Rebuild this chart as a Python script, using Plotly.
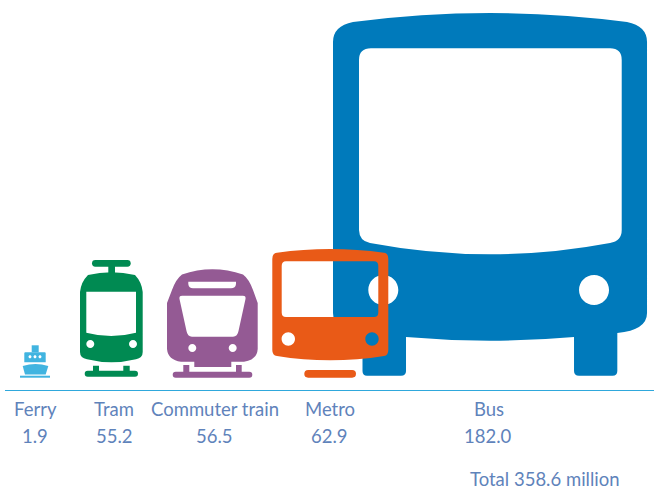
import re
import plotly.graph_objects as go

# Annual passenger journeys by mode, millions
modes = ["Ferry", "Tram", "Commuter train", "Metro", "Bus"]
journeys = [1.9, 55.2, 56.5, 62.9, 182.0]
total_label = "Total 358.6 million"

label_x = [35, 114, 214.5, 329.5, 489]
value_x = [35, 114, 214, 329, 488]
colors = {
    "Ferry": "#41b4e0",
    "Tram": "#008a52",
    "Commuter train": "#945a94",
    "Metro": "#e95a17",
    "Bus": "#007abb",
}
# Pictogram height relative to the common pixels-per-million scale
stretch = {"Ferry": 8.509, "Tram": 1.064, "Commuter train": 0.9574, "Metro": 1.021, "Bus": 1.0}

PX_PER_MILLION = 2.004
FOOT = 377.7  # icon design baseline
AXIS_PX = 390
TEXT = "#5f83bb"
FONT = "Lato, Roboto, sans-serif"
FONT_SIZE = 18.5


def circle(cx, cy, r):
    k = 0.5523 * r
    return (
        f"M{cx - r},{cy} C{cx - r},{cy - k} {cx - k},{cy - r} {cx},{cy - r} "
        f"C{cx + k},{cy - r} {cx + r},{cy - k} {cx + r},{cy} "
        f"C{cx + r},{cy + k} {cx + k},{cy + r} {cx},{cy + r} "
        f"C{cx - k},{cy + r} {cx - r},{cy + k} {cx - r},{cy} Z "
    )


def pill(x0, y0, x1, y1):
    r = (y1 - y0) / 2
    ym = (y0 + y1) / 2
    return (
        f"M{x0 + r},{y0} L{x1 - r},{y0} Q{x1},{y0} {x1},{ym} Q{x1},{y1} {x1 - r},{y1} "
        f"L{x0 + r},{y1} Q{x0},{y1} {x0},{ym} Q{x0},{y0} {x0 + r},{y0} Z "
    )


# Icon outlines in design units: (left edge, top edge, subpaths).
# Inner subpaths become holes through the even-odd fill rule.
icons = {
    "Bus": (
        333,
        13,
        [
            "M333,42 Q333,26 353,22 Q490,4 627,22 Q647,26 647,42 L647,313 Q647,330 617.3,333 "
            "L617.3,371 Q617.3,375.7 612.5,375.7 L579,375.7 Q574,375.7 574,371 L574,337 "
            "Q490,344.4 406,337 L406,371 Q406,375.7 401,375.7 L367,375.7 Q362.5,375.7 362.5,371 "
            "L362.5,333 Q333,330 333,313 Z "
            "M359,60 Q359,48.3 371,48.3 L610,48.3 Q621.7,48.3 621.7,60 L621.7,230 "
            "Q621.7,241 610,243 Q490,265.6 370,243 Q359.3,241 359,230 Z "
            + circle(383.3, 290, 15)
            + circle(594, 290, 15)
        ],
    ),
    "Metro": (
        272.3,
        249,
        [
            "M272.3,259 Q272.3,253 277,252.7 Q330,245.4 384,252.7 Q388.3,253 388.3,259 "
            "L388.3,350 Q388.3,355.5 384,356 Q330,364.6 277,356 Q272.3,355.5 272.3,350 Z "
            "M281.7,266 Q281.7,261.3 286,261.3 L374,261.3 Q378.3,261.3 378.3,266 L378.3,312.5 "
            "Q378.3,317 374,317 L286,317 Q281.7,317 281.7,312.5 Z "
            + circle(288.3, 339, 6.7)
            + circle(372, 339, 6.7),
            pill(304.3, 370, 356, 377.7),
        ],
    ),
    "Commuter train": (
        167,
        269.3,
        [
            "M167,303 L172,290 Q176,279 182,274.5 Q212.3,264 243,274.5 Q249,279 253,290 "
            "L257.7,303 L257.7,349 Q257,360 244,361.7 L231.3,361.7 L231.3,367 "
            "L194.3,367 L194.3,361.7 L181,361.7 Q168,360 167,349 Z "
            "M188.3,281.7 L236,281.7 L236,284 Q235.5,288.3 231,288.3 L193,288.3 Q188.8,288.3 188.3,284 Z "
            "M182,295.7 L243,295.7 Q246,295.7 245.5,299 L238.5,331 Q237.5,336.7 233,336.7 L192,336.7 "
            "Q187.5,336.7 186.5,331 L179.5,299 Q179,295.7 182,295.7 Z "
            + circle(192.3, 348, 4)
            + circle(232.7, 348, 4),
            "M183.3,365 L189.3,365 L189.3,372 L183.3,372 Z M236,365 L241.7,365 L241.7,372 L236,372 Z ",
            pill(172.7, 371.7, 252.3, 377.7),
        ],
    ),
    "Tram": (
        80,
        260,
        [
            pill(92, 260, 130.7, 266.7),
            "M108.3,266 L115,266 L115,274 L108.3,274 Z ",
            "M80,292 Q81,282 88,275 Q111.4,269.5 135,275 Q141.7,282 142.7,292 L142.7,352 "
            "Q142.7,358 136,359.3 Q111.4,365.3 87,359.3 Q80,358 80,352 Z "
            "M86.3,291.7 L136,291.7 L136,332.7 Q111.2,339.3 86.3,332.7 Z "
            + circle(90.3, 344, 4)
            + circle(133, 344, 4),
            "M93,365.7 L99,365.7 L99,371 L93,371 Z M123.3,365.7 L129.7,365.7 L129.7,371 L123.3,371 Z ",
            pill(84.7, 370.7, 138, 376.7),
        ],
    ),
    "Ferry": (
        20,
        345.3,
        [
            "M31.7,345.3 L38.7,345.3 L38.7,352.3 L31.7,352.3 Z ",
            "M25.3,352.3 L44.7,352.3 Q45.7,352.3 45.7,353.3 L45.7,362.3 "
            "L24.3,362.3 L24.3,353.3 Q24.3,352.3 25.3,352.3 Z "
            + circle(30, 356.7, 1.5)
            + circle(35, 356.7, 1.5)
            + circle(40, 356.7, 1.5),
            "M22.7,366 Q35.5,362 48.3,366 L45.7,374.5 L25,374.5 Z ",
            "M20,375.7 L50,375.7 L50,377.7 L20,377.7 Z ",
        ],
    ),
}

NUMBER_PAIR = re.compile(r"(-?\d+(?:\.\d+)?),(-?\d+(?:\.\d+)?)")


def placed(path, left, scale):
    """Convert an outline into data coordinates: x on the layout axis, y in millions."""

    def convert(m):
        x = left + (float(m.group(1)) - left) * scale
        y = (FOOT - float(m.group(2))) * scale / PX_PER_MILLION
        return f"{x:.3f},{y:.4f}"

    return NUMBER_PAIR.sub(convert, path)


shapes = []
# The biggest icon goes first so the smaller ones overlap it
for name in ["Bus", "Ferry", "Tram", "Commuter train", "Metro"]:
    value = journeys[modes.index(name)]
    left, top, paths = icons[name]
    scale = value * PX_PER_MILLION * stretch[name] / (FOOT - top)
    for p in paths:
        shapes.append(
            dict(
                type="path",
                xref="x",
                yref="y",
                path=placed(p, left, scale).strip(),
                fillcolor=colors[name],
                fillrule="evenodd",
                line=dict(width=0),
                layer="above",
            )
        )


def text_note(text, x, y_px):
    return dict(
        text=text,
        xref="x",
        yref="paper",
        x=x,
        y=-(y_px - AXIS_PX) / AXIS_PX,
        xanchor="center",
        yanchor="middle",
        showarrow=False,
        font=dict(family=FONT, size=FONT_SIZE, color=TEXT),
    )


notes = [text_note(m, x, 408.5) for m, x in zip(modes, label_x)]
notes += [text_note(f"{v:.1f}", x, 435.5) for v, x in zip(journeys, value_x)]
notes.append(text_note(total_label, 545, 478.5))

fig = go.Figure()
# An invisible trace keeps the numeric axes active
fig.add_trace(
    go.Scatter(x=label_x, y=journeys, mode="markers", marker=dict(opacity=0), hoverinfo="skip", showlegend=False)
)

fig.update_layout(
    width=654,
    height=491,
    margin=dict(l=5, r=0, t=0, b=491 - AXIS_PX),
    paper_bgcolor="white",
    plot_bgcolor="white",
    shapes=shapes,
    annotations=notes,
)
fig.update_xaxes(
    range=[5, 654],
    showgrid=False,
    zeroline=False,
    showline=True,
    linecolor="#2fa8dc",
    linewidth=1,
    ticks="",
    showticklabels=False,
)
fig.update_yaxes(
    range=[-(AXIS_PX - FOOT) / PX_PER_MILLION, FOOT / PX_PER_MILLION],
    visible=False,
)

fig.write_html("out.html")
